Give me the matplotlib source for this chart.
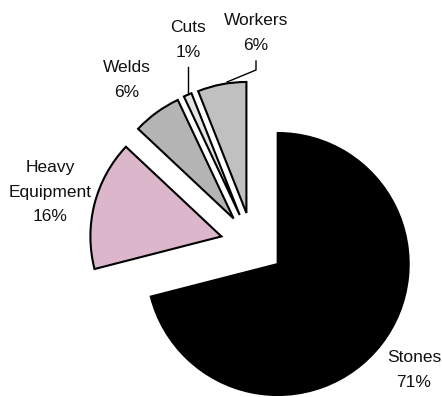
import matplotlib.pyplot as plt

plt.rcParams['font.family'] = ['Liberation Sans', 'DejaVu Sans']

# share of defects by source (%)
categories = ['Stones', 'Heavy\nEquipment', 'Welds', 'Cuts', 'Workers']
shares = [71, 16, 6, 1, 6]

colours = ['#000000', '#dcb6cb', '#b4b4b4', '#e4e4e4', '#c0c0c0']

W, H = 442, 397
fig = plt.figure(figsize=(W / 100, H / 100), dpi=100)
ax = fig.add_axes([0, 0, 1, 1])
ax.set_xlim(0, W)
ax.set_ylim(0, H)
ax.set_aspect('equal')
ax.axis('off')

centre = (252.4, H - 244.4)
radius = 131
gap = 32

wedges, _ = ax.pie(shares, colors=colours, startangle=90, counterclock=False,
                   explode=[gap] * len(shares), center=centre, radius=radius,
                   wedgeprops=dict(edgecolor='black', linewidth=1.5))
ax.set_xlim(0, W)
ax.set_ylim(0, H)

# label anchors (pixel coords, y from top)
label_pos = [(414, 370), (50, 192), (127, 80), (188, 40), (256, 33)]
for name, pct, (lx, ly) in zip(categories, shares, label_pos):
    ax.text(lx, H - ly, f'{name}\n{pct}%', ha='center', va='center',
            fontsize=12.5, linespacing=1.8, color='#111111')

# leader lines for the two small slices at the top
ax.plot([188, 188], [H - 67, H - 94], color='black', lw=1)
ax.plot([256, 256, 227], [H - 61, H - 70, H - 82], color='black', lw=1)

fig.savefig('out.png', dpi=100)
